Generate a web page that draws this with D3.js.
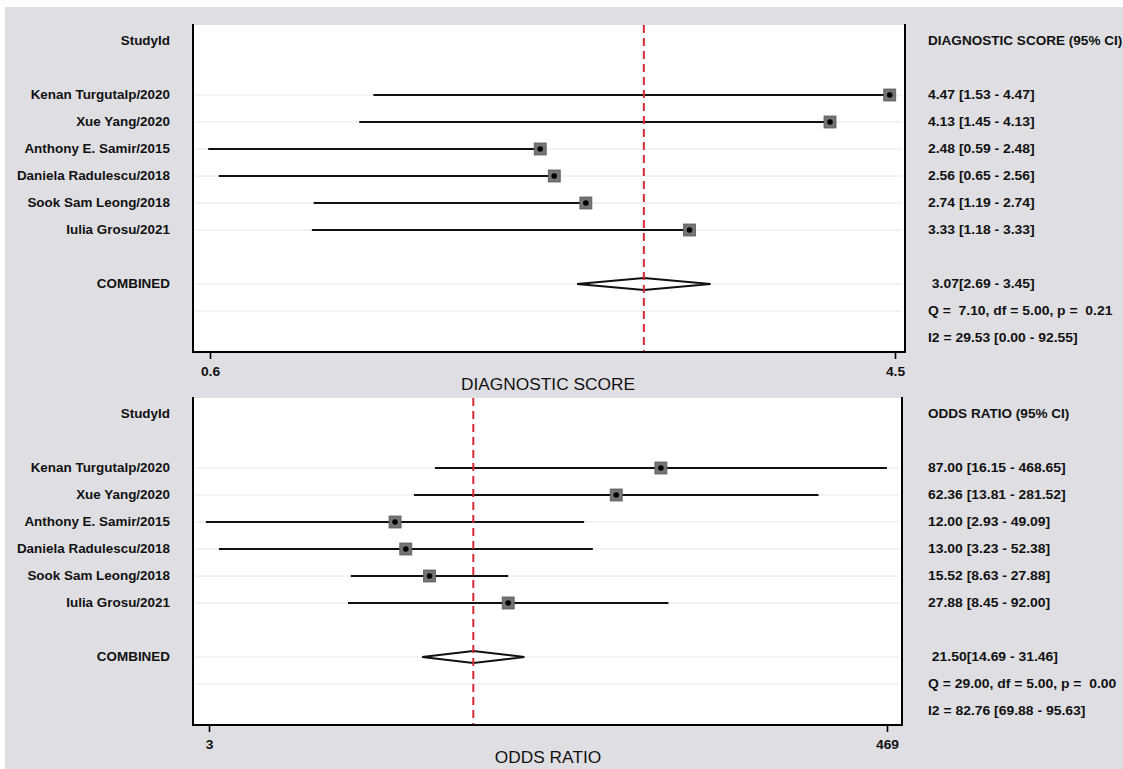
<!DOCTYPE html>
<html>
<head>
<meta charset="utf-8">
<script src="https://cdn.jsdelivr.net/npm/d3@7"></script>
<style>
  body { margin: 0; background: #fff; }
  svg text { font-family: "Liberation Sans", Arial, sans-serif; fill: #111; white-space: pre; }
</style>
</head>
<body>
<svg id="chart" width="1123" height="769"></svg>
<script>
// study labels, shared by both panels
const studies = [
    "Kenan Turgutalp/2020",
    "Xue Yang/2020",
    "Anthony E. Samir/2015",
    "Daniela Radulescu/2018",
    "Sook Sam Leong/2018",
    "Iulia Grosu/2021"
];

// diagnostic score
const dsEst = [4.47, 4.13, 2.48, 2.56, 2.74, 3.33];
const dsLo  = [1.53, 1.45, 0.59, 0.65, 1.19, 1.18];
const dsHi  = [4.47, 4.13, 2.48, 2.56, 2.74, 3.33];
const dsPooled = [3.07, 2.69, 3.45];
const dsStats = ["Q =  7.10, df = 5.00, p =  0.21", "I2 = 29.53 [0.00 - 92.55]"];
const dsTicks = [0.6, 4.5];

// odds ratio
const orEst = [87.00, 62.36, 12.00, 13.00, 15.52, 27.88];
const orLo  = [16.15, 13.81, 2.93, 3.23, 8.63, 8.45];
const orHi  = [468.65, 281.52, 49.09, 52.38, 27.88, 92.00];
const orPooled = [21.50, 14.69, 31.46];
const orStats = ["Q = 29.00, df = 5.00, p =  0.00", "I2 = 82.76 [69.88 - 95.63]"];
const orTicks = [3, 469];

const f2 = d3.format(".2f");

let svg = d3.select("#chart");

// grey page background
svg.append("rect")
    .attr("x", 5).attr("y", 7)
    .attr("width", 1118).attr("height", 762)
    .attr("fill", "#dfdfe3");

let panels = [
    {
        top: 25, right: 905, header: "DIAGNOSTIC SCORE (95% CI)", title: "DIAGNOSTIC SCORE",
        x: d3.scaleLinear().domain([0.6, 4.5]).range([210, 895]),
        est: dsEst, lo: dsLo, hi: dsHi, pooled: dsPooled, stats: dsStats, ticks: dsTicks,
        tickFormat: d3.format(".1f")
    },
    {
        top: 398, right: 902, header: "ODDS RATIO (95% CI)", title: "ODDS RATIO",
        x: d3.scaleLog().domain([3, 469]).range([209, 887]),
        est: orEst, lo: orLo, hi: orHi, pooled: orPooled, stats: orStats, ticks: orTicks,
        tickFormat: d3.format("d")
    }
];

panels.forEach(p => {

    let height = 327,
        left = 193,
        bottom = p.top + height;

    // rows: 0 header, 2-7 studies, 9 combined, 10-11 stats
    let y = d3.scaleLinear().domain([0, 11]).range([p.top + 16, p.top + 16 + 297]);

    let g = svg.append("g");

    // white plot region
    g.append("rect")
        .attr("x", left).attr("y", p.top)
        .attr("width", p.right - left).attr("height", height)
        .attr("fill", "#fff");

    // light row guides
    let guideRows = [2, 3, 4, 5, 6, 7, 9, 10];
    g.selectAll(".guide")
        .data(guideRows)
        .enter()
        .append("line")
        .attr("x1", left + 2).attr("x2", p.right - 3)
        .attr("y1", d => y(d)).attr("y2", d => y(d))
        .attr("stroke", "#e6e6e6")
        .attr("stroke-width", 1);

    // left labels
    let leftRows = [{ r: 0, t: "StudyId" }]
        .concat(studies.map((s, i) => ({ r: i + 2, t: s })))
        .concat([{ r: 9, t: "COMBINED" }]);

    g.selectAll(".lab")
        .data(leftRows)
        .enter()
        .append("text")
        .attr("transform", d => `translate(170,${y(d.r)}) scale(1.12,1)`)
        .attr("dy", "0.36em")
        .attr("text-anchor", "end")
        .attr("font-size", 12)
        .attr("font-weight", "bold")
        .text(d => d.t);

    // right column
    let rightRows = [{ r: 0, t: p.header }]
        .concat(p.est.map((e, i) => ({ r: i + 2, t: `${f2(e)} [${f2(p.lo[i])} - ${f2(p.hi[i])}]` })))
        .concat([{ r: 9, t: ` ${f2(p.pooled[0])}[${f2(p.pooled[1])} - ${f2(p.pooled[2])}]` }])
        .concat(p.stats.map((s, i) => ({ r: 10 + i, t: s })));

    g.selectAll(".val")
        .data(rightRows)
        .enter()
        .append("text")
        .attr("transform", d => `translate(928,${y(d.r)}) scale(${d.r === 0 ? 1.13 : 1.16},1)`)
        .attr("dy", "0.36em")
        .attr("font-size", 12)
        .attr("font-weight", "bold")
        .text(d => d.t);

    // confidence intervals
    g.selectAll(".ci")
        .data(p.est)
        .enter()
        .append("line")
        .attr("x1", (d, i) => p.x(p.lo[i]))
        .attr("x2", (d, i) => p.x(p.hi[i]))
        .attr("y1", (d, i) => y(i + 2))
        .attr("y2", (d, i) => y(i + 2))
        .attr("stroke", "#111")
        .attr("stroke-width", 2);

    // study markers
    g.selectAll(".box")
        .data(p.est)
        .enter()
        .append("rect")
        .attr("x", d => p.x(d) - 6)
        .attr("y", (d, i) => y(i + 2) - 6)
        .attr("width", 12).attr("height", 12)
        .attr("fill", "#747474")
        .attr("stroke", "#5a5a5a")
        .attr("stroke-width", 0.8);

    g.selectAll(".dot")
        .data(p.est)
        .enter()
        .append("circle")
        .attr("cx", d => p.x(d))
        .attr("cy", (d, i) => y(i + 2))
        .attr("r", 2.8)
        .attr("fill", "#000");

    // pooled diamond
    let yc = y(9);
    g.append("polygon")
        .attr("points", [
            [p.x(p.pooled[1]), yc],
            [p.x(p.pooled[0]), yc - 6],
            [p.x(p.pooled[2]), yc],
            [p.x(p.pooled[0]), yc + 6]
        ].map(d => d.join(",")).join(" "))
        .attr("fill", "#fff")
        .attr("stroke", "#111")
        .attr("stroke-width", 2);

    // pooled estimate reference line
    g.append("line")
        .attr("x1", p.x(p.pooled[0])).attr("x2", p.x(p.pooled[0]))
        .attr("y1", p.top).attr("y2", bottom)
        .attr("stroke", "#d62839")
        .attr("stroke-width", 2)
        .attr("stroke-dasharray", "8,5");

    // frame: left, bottom, right
    g.append("path")
        .attr("d", `M${left},${p.top - 1}V${bottom}H${p.right}V${p.top - 1}`)
        .attr("fill", "none")
        .attr("stroke", "#000")
        .attr("stroke-width", 2);

    // x axis
    let axis = g.append("g")
        .attr("transform", `translate(0,${bottom})`)
        .call(d3.axisBottom(p.x).tickValues(p.ticks).tickFormat(p.tickFormat).tickSize(7).tickPadding(8));

    axis.select(".domain").remove();
    axis.selectAll(".tick line").attr("stroke", "#000").attr("stroke-width", 1.6);
    axis.selectAll(".tick text")
        .attr("transform", "scale(1.15,1)")
        .attr("font-size", 12)
        .attr("font-weight", "bold")
        .attr("font-family", "Liberation Sans, Arial, sans-serif")
        .attr("fill", "#111");

    // axis title
    g.append("text")
        .attr("transform", `translate(548,${bottom + 32}) scale(1.05,1)`)
        .attr("dy", "0.36em")
        .attr("text-anchor", "middle")
        .attr("font-size", 16.5)
        .text(p.title);

});
</script>
</body>
</html>
